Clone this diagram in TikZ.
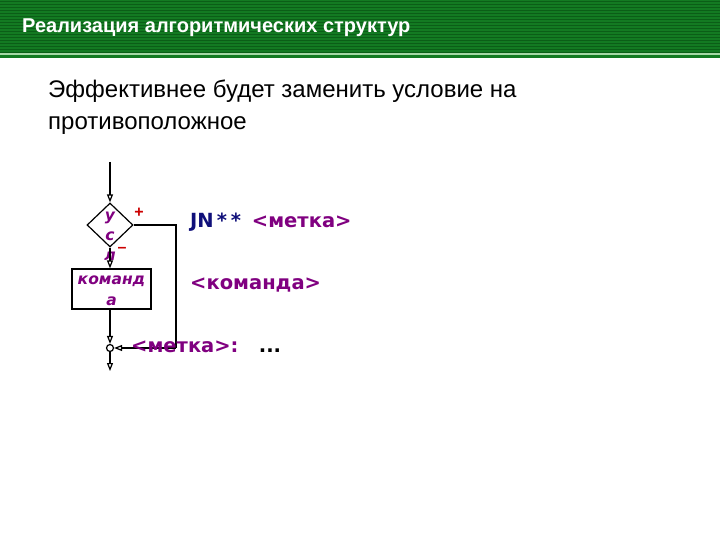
\documentclass[tikz,border=0pt]{standalone}
\usepackage{fontspec}
\setmainfont{Liberation Sans}
\newfontfamily\vfont{DejaVu Sans}
\usetikzlibrary{shapes.geometric,arrows.meta}
\definecolor{hdr}{HTML}{137A22}
\definecolor{hdrdark}{HTML}{0B5E17}
\definecolor{hdrlight}{HTML}{A6D8A6}
\definecolor{purp}{HTML}{800080}
\definecolor{navy}{HTML}{10107A}
\definecolor{redc}{HTML}{CC0000}
\tikzset{
  flow/.style={line width=1.2pt, draw=black},
  arr/.style={flow, -{Triangle[open,length=8pt,width=6pt]}},
  ltext/.style={font=\vfont\bfseries\itshape\fontsize{15.5}{19}\selectfont, text=purp, align=center},
  code/.style={anchor=base west, font=\vfont\bfseries\fontsize{19.5}{22}\selectfont, inner sep=0pt},
}
\begin{document}
\begin{tikzpicture}[x=1pt,y=-1pt]
\useasboundingbox (0,0) rectangle (720,540);
\fill[white] (0,0) rectangle (720,540);
% header
\fill[hdr] (0,0) rectangle (720,58);
\foreach \y in {1.5,4.5,...,52.5} \draw[hdrdark, line width=0.8pt] (0,\y) -- (720,\y);
\fill[hdrlight] (0,53) rectangle (720,55.5);
\node[anchor=base west, inner sep=0pt, text=white, font=\bfseries\fontsize{20}{24}\selectfont] (title) at (22,32.5) {Реализация алгоритмических структур};
% body
\node[anchor=base west, inner sep=0pt, font=\fontsize{24}{30}\selectfont] (l1) at (48,98) {Эффективнее будет заменить условие на};
\node[anchor=base west, inner sep=0pt, font=\fontsize{24}{30}\selectfont] (l2) at (48,130) {противоположное};
% flowchart
\coordinate (start) at (110,162);
\node[diamond, flow, minimum width=46pt, minimum height=44pt, inner sep=0pt] (cond) at (110,225) {};
\node[ltext, inner sep=0pt] (condt) at (110,236) {у\\[1pt]с\\[1pt]л};
\node[rectangle, flow, minimum width=79pt, minimum height=40pt, inner sep=0pt] (cmd) at (111.5,289) {};
\node[ltext, inner sep=0pt] (cmdt) at (111.5,291) {команд\\[2pt]а};
\node[circle, flow, fill=white, minimum size=7pt, inner sep=0pt] (join) at (110,348) {};
\coordinate (end) at (110,371);
\coordinate (rt) at (176,225);
\coordinate (rb) at (176,348);
\node[text=redc, font=\bfseries\fontsize{16}{16}\selectfont, inner sep=0pt] (plus) at (139,213) {+};
\node[text=redc, font=\bfseries\fontsize{16}{16}\selectfont, inner sep=0pt] (minus) at (122,250) {–};
\draw[arr] (start) -- (cond.north);
\draw[arr] (cond.south) -- (cmd.north -| cond.south);
\draw[arr] (cmd.south -| join.north) -- (join.north);
\draw[arr] (join.south) -- (end);
\draw[flow] (cond.east) -- (rt) -- (rb);
\draw[arr] (rb) -- (join.east);
% code
\node[code] (c1) at (190,227) {\textcolor{navy}{JN\kern3pt*\kern4pt*}\kern4pt\ \textcolor{purp}{<метка>}};
\node[code] (c2) at (190,289) {\textcolor{purp}{<команда>}};
\node[code] (c3) at (131,352) {\textcolor{purp}{<метка>:}\ \ \ \textcolor{black}{...}};
\end{tikzpicture}
\end{document}
